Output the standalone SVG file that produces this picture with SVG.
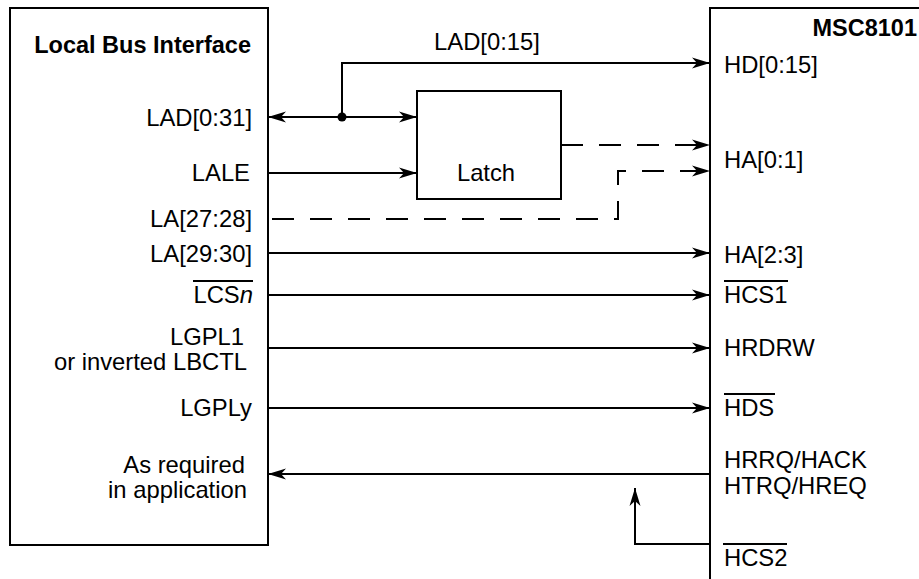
<svg xmlns="http://www.w3.org/2000/svg" width="919" height="579" viewBox="0 0 919 579">
<style>
text{font-family:"Liberation Sans",Arial,sans-serif;font-size:23.8px;fill:#000}
.b{font-weight:bold;font-size:23.5px}
.r{text-anchor:end}
.box{fill:#fff;stroke:#000;stroke-width:2}
.ln{fill:none;stroke:#000;stroke-width:2}
.d{stroke-dasharray:22 16}
.ov{stroke:#000;stroke-width:2}
</style>
<defs>
<marker id="ah" markerUnits="userSpaceOnUse" markerWidth="20" markerHeight="12" refX="18" refY="5.5" orient="auto" overflow="visible">
<path d="M0,0 L18,5.5 L0,11 L5,5.5 z" fill="#000"/>
</marker>
<marker id="as" markerUnits="userSpaceOnUse" markerWidth="20" markerHeight="12" refX="18" refY="5.5" orient="auto-start-reverse" overflow="visible">
<path d="M0,0 L18,5.5 L0,11 L5,5.5 z" fill="#000"/>
</marker>
</defs>

<g id="local-bus-interface">
<rect class="box" x="10" y="8" width="258" height="537"/>
<text class="b r" x="251" y="53">Local Bus Interface</text>
<text class="r" x="252" y="126">LAD[0:31]</text>
<text class="r" x="250" y="181">LALE</text>
<text class="r" x="252" y="227">LA[27:28]</text>
<text class="r" x="252" y="262">LA[29:30]</text>
<text class="r" x="253" y="303">LCS<tspan font-style="italic">n</tspan></text>
<line class="ov" x1="193" y1="281" x2="253" y2="281"/>
<text class="r" x="244" y="345">LGPL1</text>
<text class="r" x="247" y="370">or inverted LBCTL</text>
<text class="r" x="252" y="416">LGPLy</text>
<text class="r" x="245" y="473">As required</text>
<text class="r" x="247" y="498">in application</text>
</g>

<g id="latch">
<rect class="box" x="417" y="91" width="144" height="108"/>
<text x="486" y="181" text-anchor="middle">Latch</text>
</g>

<g id="msc8101">
<path class="ln" d="M919,8 H710 V579"/>
<text class="b r" x="917" y="36">MSC8101</text>
<text x="724" y="73">HD[0:15]</text>
<text x="724" y="168">HA[0:1]</text>
<text x="724" y="263">HA[2:3]</text>
<text x="724" y="303">HCS1</text>
<line class="ov" x1="724" y1="281" x2="788" y2="281"/>
<text x="724" y="356">HRDRW</text>
<text x="724" y="416">HDS</text>
<line class="ov" x1="724" y1="394" x2="775" y2="394"/>
<text x="724" y="468">HRRQ/HACK</text>
<text x="724" y="494">HTRQ/HREQ</text>
<text x="724" y="566">HCS2</text>
<line class="ov" x1="723" y1="544" x2="787" y2="544"/>
</g>

<g id="connectors">
<line class="ln" x1="268" y1="117" x2="417" y2="117" marker-start="url(#as)" marker-end="url(#ah)"/>
<circle cx="342" cy="117" r="4.5" fill="#000"/>
<path class="ln" d="M342,117 V63 H710" marker-end="url(#ah)"/>
<text x="487" y="50" text-anchor="middle">LAD[0:15]</text>
<line class="ln" x1="268" y1="173" x2="417" y2="173" marker-end="url(#ah)"/>
<line class="ln d" x1="561" y1="145" x2="710" y2="145" marker-end="url(#ah)"/>
<path class="ln d" d="M272,219 H618 V171 H710" marker-end="url(#ah)"/>
<line class="ln" x1="268" y1="253" x2="710" y2="253" marker-end="url(#ah)"/>
<line class="ln" x1="268" y1="295" x2="710" y2="295" marker-end="url(#ah)"/>
<line class="ln" x1="268" y1="348" x2="710" y2="348" marker-end="url(#ah)"/>
<line class="ln" x1="268" y1="408" x2="710" y2="408" marker-end="url(#ah)"/>
<line class="ln" x1="710" y1="474" x2="268" y2="474" marker-end="url(#ah)"/>
<path class="ln" d="M710,544 H635 V488" marker-end="url(#ah)"/>
</g>
</svg>
